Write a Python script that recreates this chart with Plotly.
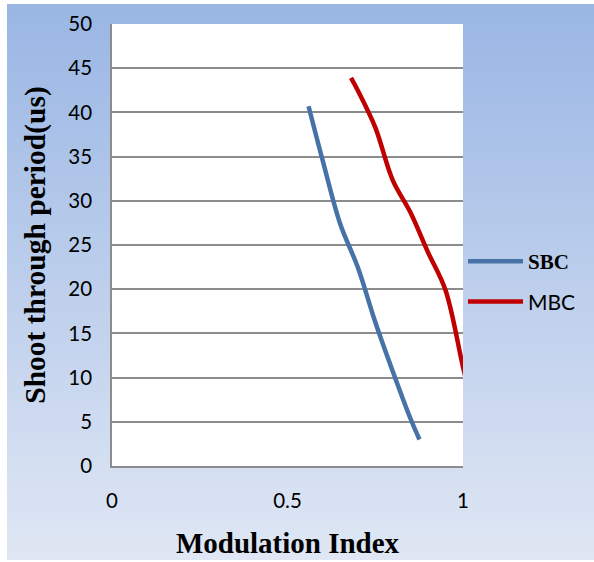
import plotly.graph_objects as go

# Data
sbc_x = [0.56, 0.60, 0.65, 0.70, 0.75, 0.80, 0.85, 0.876]
sbc_y = [40.7, 34.6, 27.4, 22.5, 16.3, 10.7, 5.4, 3.0]
mbc_x = [0.681, 0.70, 0.75, 0.80, 0.85, 0.90, 0.95, 1.0, 1.02]
mbc_y = [43.9, 42.5, 38.3, 32.3, 28.7, 24.2, 19.9, 11.2, 8.0]
x_ticks = [0, 0.5, 1]
y_ticks = list(range(0, 55, 5))

W, H = 594, 562
L, R, T, B = 112, 131, 24, 96
pw, ph = W - L - R, H - T - B

def px2paper_x(px):
    return (px - L) / pw

def py2paper_y(py):
    return (H - B - py) / ph

fig = go.Figure()
fig.add_trace(go.Scatter(x=sbc_x, y=sbc_y, mode="lines", line=dict(color="#4672A8", width=4.5, shape="spline"),
                         name='<span style="font-family:Liberation Serif;font-weight:bold">SBC</span>', legendgroup="a"))
fig.add_trace(go.Scatter(x=mbc_x, y=mbc_y, mode="lines", line=dict(color="#C00000", width=4.5, shape="spline"),
                         name='<span style="font-family:Lato">MBC</span>', legendgroup="b"))

# gradient background via strips
shapes = []
top_c = (153, 182, 228)
bot_c = (224, 231, 244)
y0p, y1p = 4, 560
n = 70
for i in range(n):
    a = y0p + (y1p - y0p) * i / n
    b = y0p + (y1p - y0p) * (i + 1) / n + 0.8
    t = (i + 0.5) / n
    c = tuple(round(top_c[k] + (bot_c[k] - top_c[k]) * t) for k in range(3))
    shapes.append(dict(type="rect", xref="paper", yref="paper", layer="below",
                       x0=px2paper_x(7), x1=px2paper_x(W + 2), y0=py2paper_y(min(b, y1p)), y1=py2paper_y(a),
                       line=dict(width=0), fillcolor="rgb(%d,%d,%d)" % c))
shapes.append(dict(type="rect", xref="paper", yref="paper", layer="below", x0=0, x1=1, y0=0, y1=1,
                   line=dict(width=0), fillcolor="white"))

fig.update_layout(
    width=W, height=H,
    margin=dict(l=L, r=R, t=T, b=B, autoexpand=False),
    paper_bgcolor="white", plot_bgcolor="white",
    shapes=shapes,
    showlegend=True,
    legend=dict(x=1.0, y=py2paper_y(241), xanchor="left", yanchor="top", bgcolor="rgba(0,0,0,0)",
                font=dict(family="Liberation Serif", size=21, color="black"),
                itemwidth=55,
                traceorder="grouped", tracegroupgap=10),
    xaxis=dict(range=[0, 1], tickvals=x_ticks, ticktext=["0", "0.5", "1"], automargin=False,
               showgrid=False, zeroline=False, showline=True, linecolor="#8c8c8c", linewidth=1.5,
               ticks="", ticklabelstandoff=16,
               tickfont=dict(family="Lato", size=20.5, color="black"),
               title=dict(text="<b>Modulation Index</b>", font=dict(family="Liberation Serif", size=29, color="black"), standoff=21)),
    yaxis=dict(range=[0, 50], tickvals=y_ticks, automargin=False, showgrid=True, gridcolor="#8c8c8c", gridwidth=1.5,
               zeroline=False, showline=True, linecolor="#8c8c8c", linewidth=1.5,
               ticks="", ticklabelstandoff=14,
               tickfont=dict(family="Lato", size=20.5, color="black"),
               title=dict(text="<b>Shoot through period(us)</b>", font=dict(family="Liberation Serif", size=29.5, color="black"), standoff=14)),
)

fig.write_html("out.html")
